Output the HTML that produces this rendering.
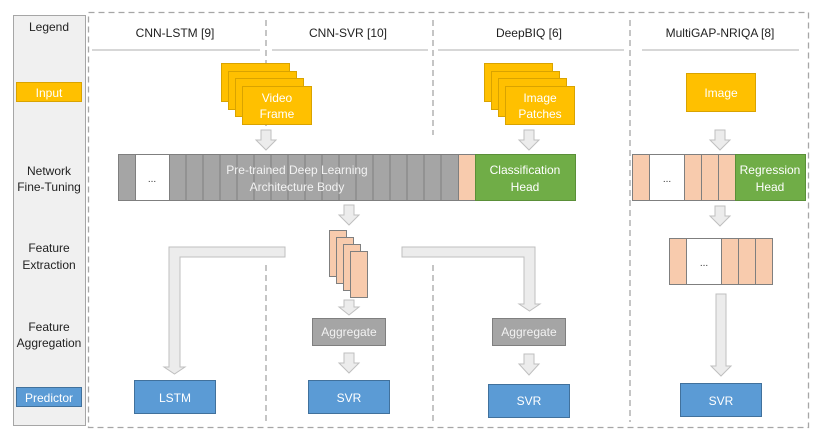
<!DOCTYPE html>
<html><head><meta charset="utf-8"><style>
body{margin:0;background:#fff}
svg{display:block;font-family:"Liberation Sans",sans-serif}
</style></head><body>
<svg width="822" height="439" viewBox="0 0 822 439" xmlns="http://www.w3.org/2000/svg">
<defs>
<g id="ad"><path d="M-5,0 H5 V10 H10 L0,20 L-10,10 H-5 Z" fill="#ececec" stroke="#bfbfbf" stroke-width="1"/></g>
</defs>
<!-- legend -->
<rect x="13.5" y="15.5" width="72" height="410" fill="#f0f0f0" stroke="#a6a6a6"/>
<g font-size="12" fill="#222" text-anchor="middle">
<text x="49" y="31">Legend</text>
<text x="49" y="175">Network</text><text x="49" y="191">Fine-Tuning</text>
<text x="49" y="252">Feature</text><text x="49" y="269">Extraction</text>
<text x="49" y="331">Feature</text><text x="49" y="347">Aggregation</text>
</g>
<rect x="16.5" y="82.5" width="65" height="19" fill="#ffc000" stroke="#d9a300"/>
<text x="49" y="97" font-size="12" fill="#fff" text-anchor="middle">Input</text>
<rect x="16.5" y="387.5" width="65" height="19" fill="#5b9bd5" stroke="#41719c"/>
<text x="49" y="402" font-size="12" fill="#fff" text-anchor="middle">Predictor</text>
<!-- dashed frame -->
<g fill="none" stroke="#a6a6a6" stroke-width="1.3" stroke-dasharray="6,4">
<rect x="88.5" y="12.5" width="720" height="415"/>
<line x1="266" y1="20" x2="266" y2="135"/><line x1="266" y1="265" x2="266" y2="422"/>
<line x1="433" y1="20" x2="433" y2="135"/><line x1="433" y1="265" x2="433" y2="422"/>
<line x1="630" y1="20" x2="630" y2="422"/>
</g>
<g stroke="#bfbfbf" stroke-width="1.2">
<line x1="92" y1="50" x2="260" y2="50"/><line x1="272" y1="50" x2="428" y2="50"/>
<line x1="438" y1="50" x2="624" y2="50"/><line x1="642" y1="50" x2="799" y2="50"/>
</g>
<g font-size="12" fill="#222" text-anchor="middle">
<text x="175" y="37">CNN-LSTM [9]</text><text x="348" y="37">CNN-SVR [10]</text>
<text x="529" y="37">DeepBIQ [6]</text><text x="720" y="37">MultiGAP-NRIQA [8]</text>
</g>
<!-- stacks -->
<g fill="#ffc000" stroke="#d9a300">
<rect x="221.5" y="63.5" width="68" height="38"/><rect x="228.5" y="71.5" width="68" height="38"/>
<rect x="235.5" y="78.5" width="68" height="38"/><rect x="242.5" y="86.5" width="69" height="38"/>
<rect x="484.5" y="63.5" width="68" height="38"/><rect x="491.5" y="71.5" width="68" height="38"/>
<rect x="498.5" y="78.5" width="68" height="38"/><rect x="505.5" y="86.5" width="69" height="38"/>
<rect x="686.5" y="73.5" width="69" height="38"/>
</g>
<g font-size="12" fill="#fff" text-anchor="middle">
<text x="277" y="102">Video</text><text x="277" y="118">Frame</text>
<text x="540" y="102">Image</text><text x="540" y="118">Patches</text>
<text x="721" y="97">Image</text>
</g>
<use href="#ad" x="266" y="130"/><use href="#ad" x="529" y="130"/><use href="#ad" x="720" y="130"/>
<!-- main bar -->
<rect x="118.5" y="154.5" width="340" height="46" fill="#a5a5a5" stroke="#7f7f7f"/>
<g stroke="#7f7f7f">
<line x1="186" y1="154" x2="186" y2="200"/><line x1="203" y1="154" x2="203" y2="200"/><line x1="220" y1="154" x2="220" y2="200"/>
<line x1="237" y1="154" x2="237" y2="200"/><line x1="254" y1="154" x2="254" y2="200"/><line x1="271" y1="154" x2="271" y2="200"/>
<line x1="288" y1="154" x2="288" y2="200"/><line x1="305" y1="154" x2="305" y2="200"/><line x1="322" y1="154" x2="322" y2="200"/>
<line x1="339" y1="154" x2="339" y2="200"/><line x1="356" y1="154" x2="356" y2="200"/><line x1="373" y1="154" x2="373" y2="200"/>
<line x1="390" y1="154" x2="390" y2="200"/><line x1="407" y1="154" x2="407" y2="200"/><line x1="424" y1="154" x2="424" y2="200"/>
<line x1="441" y1="154" x2="441" y2="200"/>
</g>
<rect x="135.5" y="154.5" width="34" height="46" fill="#fff" stroke="#7f7f7f"/>
<text x="152" y="182" font-size="10" fill="#333" text-anchor="middle">...</text>
<text x="297" y="174" font-size="12" fill="#f2f2f2" text-anchor="middle">Pre-trained Deep Learning</text>
<text x="297" y="191" font-size="12" fill="#f2f2f2" text-anchor="middle">Architecture Body</text>
<rect x="458.5" y="154.5" width="17" height="46" fill="#f8cbad" stroke="#7f7f7f"/>
<rect x="475.5" y="154.5" width="100" height="46" fill="#70ad47" stroke="#5a8f38"/>
<text x="525" y="174" font-size="12" fill="#fff" text-anchor="middle">Classification</text>
<text x="525" y="191" font-size="12" fill="#fff" text-anchor="middle">Head</text>
<!-- multigap bar -->
<g fill="#f8cbad" stroke="#7f7f7f">
<rect x="632.5" y="154.5" width="17" height="46"/>
<rect x="684.5" y="154.5" width="17" height="46"/><rect x="701.5" y="154.5" width="17" height="46"/><rect x="718.5" y="154.5" width="17" height="46"/>
</g>
<rect x="649.5" y="154.5" width="35" height="46" fill="#fff" stroke="#7f7f7f"/>
<text x="667" y="182" font-size="10" fill="#333" text-anchor="middle">...</text>
<rect x="735.5" y="154.5" width="70" height="46" fill="#70ad47" stroke="#5a8f38"/>
<text x="770" y="174" font-size="12" fill="#fff" text-anchor="middle">Regression</text>
<text x="770" y="191" font-size="12" fill="#fff" text-anchor="middle">Head</text>
<!-- feature extraction -->
<use href="#ad" x="349" y="205"/><use href="#ad" x="720" y="206"/>
<g fill="#f8cbad" stroke="#7f7f7f">
<rect x="329.5" y="230.5" width="17" height="46"/><rect x="336.5" y="237.5" width="17" height="46"/>
<rect x="343.5" y="244.5" width="17" height="46"/><rect x="350.5" y="251.5" width="17" height="46"/>
<rect x="669.5" y="238.5" width="17" height="46"/><rect x="721.5" y="238.5" width="17" height="46"/>
<rect x="738.5" y="238.5" width="17" height="46"/><rect x="755.5" y="238.5" width="17" height="46"/>
</g>
<rect x="686.5" y="238.5" width="35" height="46" fill="#fff" stroke="#7f7f7f"/>
<text x="704" y="266" font-size="10" fill="#333" text-anchor="middle">...</text>
<!-- bent arrows -->
<path d="M285,247 V257 H180 V367 H185 L174.5,374 L164,367 H169 V247 Z" fill="#ececec" stroke="#bfbfbf"/>
<path d="M402,247 V257 H524 V304 H519 L529.5,311 L540,304 H535 V247 Z" fill="#ececec" stroke="#bfbfbf"/>
<path d="M716,294 H726 V366 H731 L721,376 L711,366 H716 Z" fill="#ececec" stroke="#bfbfbf"/>
<!-- small arrows -->
<g><path d="M344,300 H354 V307 H359 L349,315 L339,307 H344 Z" fill="#ececec" stroke="#bfbfbf"/>
<path d="M344,353 H354 V363 H359 L349,373 L339,363 H344 Z" fill="#ececec" stroke="#bfbfbf"/>
<path d="M524,354 H534 V364 H539 L529,375 L519,364 H524 Z" fill="#ececec" stroke="#bfbfbf"/></g>
<!-- aggregate -->
<rect x="312.5" y="318.5" width="73" height="27" fill="#a5a5a5" stroke="#7f7f7f"/>
<text x="349" y="336" font-size="12" fill="#f2f2f2" text-anchor="middle">Aggregate</text>
<rect x="492.5" y="318.5" width="73" height="27" fill="#a5a5a5" stroke="#7f7f7f"/>
<text x="529" y="336" font-size="12" fill="#f2f2f2" text-anchor="middle">Aggregate</text>
<!-- predictors -->
<g fill="#5b9bd5" stroke="#41719c">
<rect x="134.5" y="380.5" width="81" height="33"/><rect x="308.5" y="380.5" width="81" height="33"/>
<rect x="488.5" y="384.5" width="81" height="33"/><rect x="680.5" y="383.5" width="81" height="33"/>
</g>
<g font-size="12" fill="#fff" text-anchor="middle">
<text x="175" y="402">LSTM</text><text x="349" y="402">SVR</text>
<text x="529" y="405">SVR</text><text x="721" y="405">SVR</text>
</g>
</svg>
</body></html>
